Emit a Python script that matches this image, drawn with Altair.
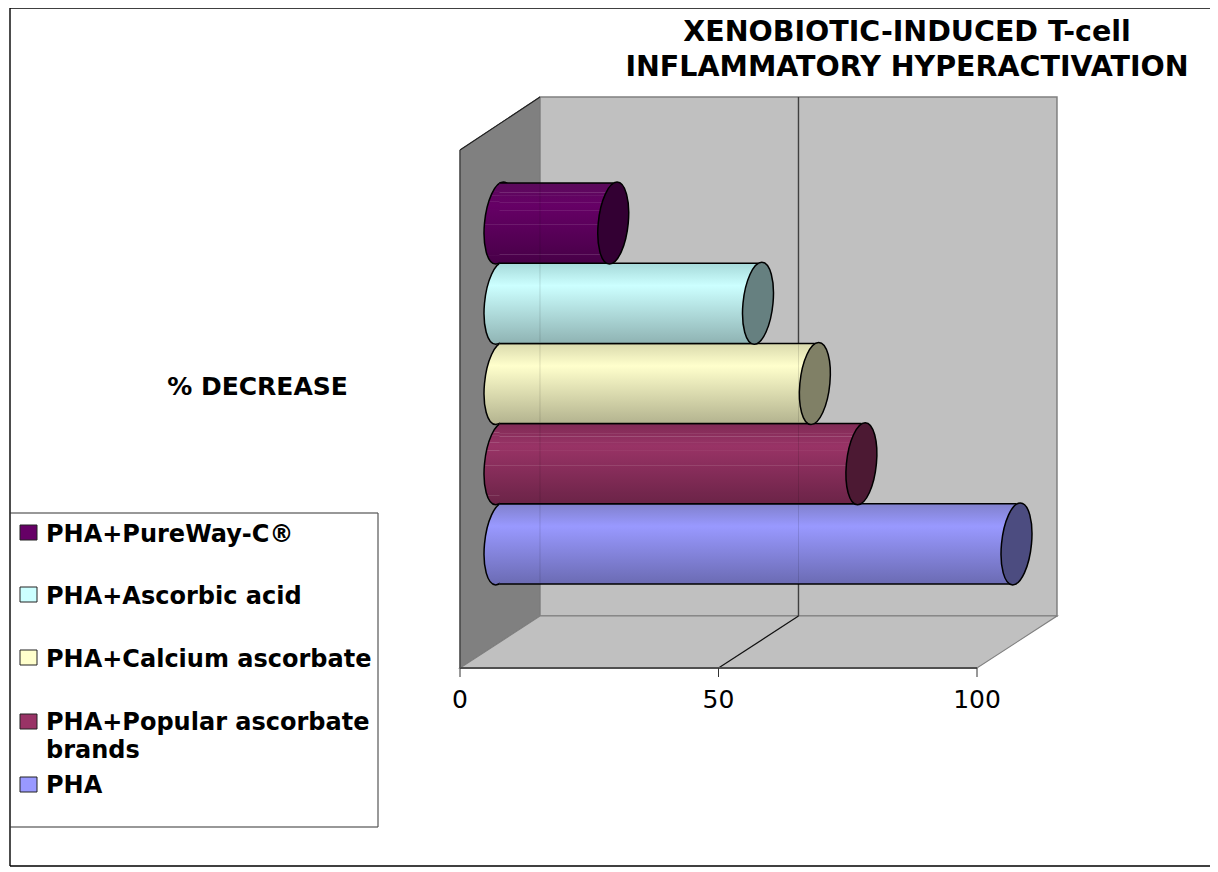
import altair as alt
import pandas as pd

# ---- data
series = ["PHA+PureWay-C®", "PHA+Ascorbic acid", "PHA+Calcium ascorbate", "PHA+Popular ascorbate brands", "PHA"]
values = [22, 50, 61, 70, 100]
base_colors = ["#660066", "#CCFFFF", "#FFFFCC", "#993366", "#9999FF"]
top_colors = ["#5A0A5A", "#A6D9D9", "#D9D9AD", "#7F2B55", "#8080CC"]
bottom_colors = ["#470047", "#8FB3B3", "#B3B38F", "#6B2447", "#6B6BB3"]
cap_colors = ["#330033", "#668080", "#808066", "#4C1933", "#4C4C80"]
striped = [True, False, False, True, False]
ticks = [0, 50, 100]
title_lines = ["XENOBIOTIC-INDUCED T-cell", "INFLAMMATORY HYPERACTIVATION"]
legend_lines = ["PHA+PureWay-C®", "PHA+Ascorbic acid", "PHA+Calcium ascorbate", "PHA+Popular ascorbate", "brands", "PHA"]
legend_baseline = [542, 604, 667, 730, 758, 793]
swatch_top = [525, 587, 650, 714, 777]
stripe_at = [0.12, 0.16, 0.24, 0.34, 0.52, 0.89]
depth = 15.47

W, H = 1202, 860
xs = alt.Scale(domain=[0, 100], range=[452, 969], nice=False, zero=False)
pys = alt.Scale(domain=[0, H], range=[0, H], nice=False, zero=False)
cats = alt.Scale(domain=series, range=[175, 576], paddingInner=0, paddingOuter=0)
FONT = "DejaVu Sans"
one = pd.DataFrame({"k": [0]})


def X(f="x"):
    return alt.X(f"{f}:Q", scale=xs, axis=None)


def PY(f="y"):
    return alt.Y(f"{f}:Q", scale=pys, axis=None)


def line(xv, yv, color, width=1.0, opacity=1.0):
    df = pd.DataFrame({"x": xv, "y": yv, "o": range(len(xv))})
    return alt.Chart(df).mark_line(color=color, strokeWidth=width, opacity=opacity).encode(
        x=X(), y=PY(), order="o:Q")


def ruleh(a, b, y, color="#000000", w=1.4):
    return alt.Chart(one).mark_rule(color=color, strokeWidth=w).encode(
        x=alt.value(a), x2=alt.value(b), y=alt.value(y))


def rulev(x, a, b, color="#000000", w=1.4):
    return alt.Chart(one).mark_rule(color=color, strokeWidth=w).encode(
        x=alt.value(x), y=alt.value(a), y2=alt.value(b))


def label(t, x, y, size, align="left"):
    return alt.Chart(one).mark_text(
        text=t, font=FONT, fontSize=size, fontWeight="bold", align=align, baseline="alphabetic", color="#000000"
    ).encode(x=alt.value(x), y=alt.value(y))


def rgb(h):
    return [int(h[i:i + 2], 16) for i in (1, 3, 5)]


def mix(c1, c2, t):
    a_, b_ = rgb(c1), rgb(c2)
    return "#%02X%02X%02X" % tuple(round(p + (q - p) * t) for p, q in zip(a_, b_))


def shade(i, o):
    if o < 0.28:
        return mix(top_colors[i], base_colors[i], o / 0.28)
    return mix(base_colors[i], bottom_colors[i], (o - 0.28) / 0.72)


def gradient(i):
    offs = [0, 0.28, 1]
    stops = {o: shade(i, o) for o in offs}
    if striped[i]:
        for s in stripe_at:
            c = shade(i, s)
            stops[s - 0.006] = c
            stops[s] = mix(c, "#FFFFFF", 0.18)
            stops[s + 0.006] = c
    return alt.LinearGradient(gradient="linear", x1=0, x2=0, y1=0, y2=1, stops=[
        alt.GradientStop(offset=o, color=stops[o]) for o in sorted(stops)])


layers = []

# walls
side = pd.DataFrame({"x": [0, depth], "y": [142, 89], "y2": [660, 608]})
layers.append(alt.Chart(side).mark_area(orient="vertical", color="#808080", stroke="#606060", strokeWidth=1).encode(
    x=X(), y=PY(), y2="y2:Q"))
back = pd.DataFrame({"x": [depth], "x2": [100 + depth], "y": [89], "y2": [608]})
layers.append(alt.Chart(back).mark_rect(color="#C0C0C0", stroke="#808080", strokeWidth=1.5).encode(
    x=X(), x2="x2:Q", y=PY(), y2="y2:Q"))
floor = pd.DataFrame({"y": [660, 608], "x": [0, depth], "x2": [100, 100 + depth]})
layers.append(alt.Chart(floor).mark_area(orient="horizontal", color="#C0C0C0", stroke="#808080", strokeWidth=1.2).encode(
    y=PY(), x=X(), x2="x2:Q"))
layers.append(line([0, depth], [142, 89], "#222222", 1.2))
layers.append(line([0, 0], [142, 660], "#404040", 1.2))
layers.append(line([50 + depth, 50 + depth], [89, 608], "#404040", 1.4))
layers.append(line([50, 50 + depth], [660, 608], "#111111", 1.2))
layers.append(line([0, 100], [660, 660], "#505050", 2))

# axis ticks and labels
tick_df = pd.DataFrame({"x": ticks, "t": [str(t) for t in ticks]})
layers.append(alt.Chart(tick_df).mark_rule(color="#333333", strokeWidth=1).encode(
    x=X(), y=alt.value(660), y2=alt.value(669)))
layers.append(alt.Chart(tick_df).mark_text(font=FONT, fontSize=25, align="center", baseline="alphabetic", color="#000000").encode(
    x=X(), y=alt.value(700), text="t:N"))

# cylinders: an ellipse leaning slightly, in symbol units
a, b = 15.0 / 41, 3.8 / 41
k = 0.5523


def P(c, s):
    return (a * c + b * s, -s)


pts = [P(1, 0), P(1, k), P(k, 1), P(0, 1), P(-k, 1), P(-1, k), P(-1, 0), P(-1, -k), P(-k, -1), P(0, -1), P(k, -1), P(1, -k), P(1, 0)]
cap_path = "M%.4f,%.4f" % pts[0]
for i in range(1, 13, 3):
    cap_path += "C%.4f,%.4f %.4f,%.4f %.4f,%.4f" % (pts[i] + pts[i + 1] + pts[i + 2])
cap_path += "Z"
cap_size = 82 ** 2
bar_dx = 39.5

for i in reversed(range(len(series))):
    df = pd.DataFrame({"cat": [series[i]], "v": [values[i]], "base": [0]})
    grad = gradient(i)
    yc = alt.Y("cat:N", scale=cats, axis=None)
    base = alt.Chart(df)
    layers.append(base.mark_point(shape=cap_path, size=cap_size, filled=True, fill=grad, stroke="#000000",
                                  strokeWidth=1.5, opacity=1, xOffset=bar_dx).encode(
        x=alt.X("base:Q", scale=xs, axis=None), y=yc))
    layers.append(base.mark_bar(fill=grad, xOffset=bar_dx, x2Offset=bar_dx).encode(
        x=alt.X("v:Q", scale=xs, axis=None), x2="base:Q", y=yc))
    for bp in (0, 1):
        layers.append(base.mark_rule(color="#000000", strokeWidth=1.5, xOffset=bar_dx, x2Offset=bar_dx).encode(
            x=alt.X("v:Q", scale=xs, axis=None), x2="base:Q",
            y=alt.Y("cat:N", scale=cats, axis=None, bandPosition=bp)))
    # wall seams showing faintly through the translucent cylinders
    layers.append(line([depth, depth], [176 + i * 80.2, 254 + i * 80.2], "#000000", 1, 0.12))
    if values[i] + bar_dx / 5.17 > 50 + depth:
        layers.append(line([50 + depth, 50 + depth], [176 + i * 80.2, 254 + i * 80.2], "#000000", 1, 0.12))
    layers.append(base.mark_point(shape=cap_path, size=cap_size, filled=True, fill=cap_colors[i], stroke="#000000",
                                  strokeWidth=1.5, opacity=1, xOffset=bar_dx).encode(
        x=alt.X("v:Q", scale=xs, axis=None), y=yc))

# frame
layers.append(rulev(2, 0, 858))
layers.append(ruleh(2, W, 0))
layers.append(ruleh(2, W, 858))

# legend box
layers.append(ruleh(2, 370, 505, "#333333", 1.2))
layers.append(ruleh(2, 370, 819, "#333333", 1.2))
layers.append(rulev(370, 505, 819, "#555555", 1.2))
for i, sy in enumerate(swatch_top):
    layers.append(alt.Chart(one).mark_rect(fill=base_colors[i], stroke="#222222", strokeWidth=1).encode(
        x=alt.value(12), x2=alt.value(29), y=alt.value(sy - 8), y2=alt.value(sy - 8 + 15)))
for t, y in zip(legend_lines, legend_baseline):
    layers.append(label(t, 38, y - 8, 24))

# texts
layers.append(label("% DECREASE", 249.5, 387, 25, align="center"))
layers.append(label(title_lines[0], 899, 33, 28.5, align="center"))
layers.append(label(title_lines[1], 899, 68, 28.5, align="center"))

chart = alt.layer(*layers).resolve_scale(y="independent").properties(
    width=W, height=H, padding=0, background="#FFFFFF",
    autosize=alt.AutoSizeParams(type="none"),
).configure_view(stroke=None)

chart.save("out.html", embed_options={"renderer": "svg", "actions": False})
